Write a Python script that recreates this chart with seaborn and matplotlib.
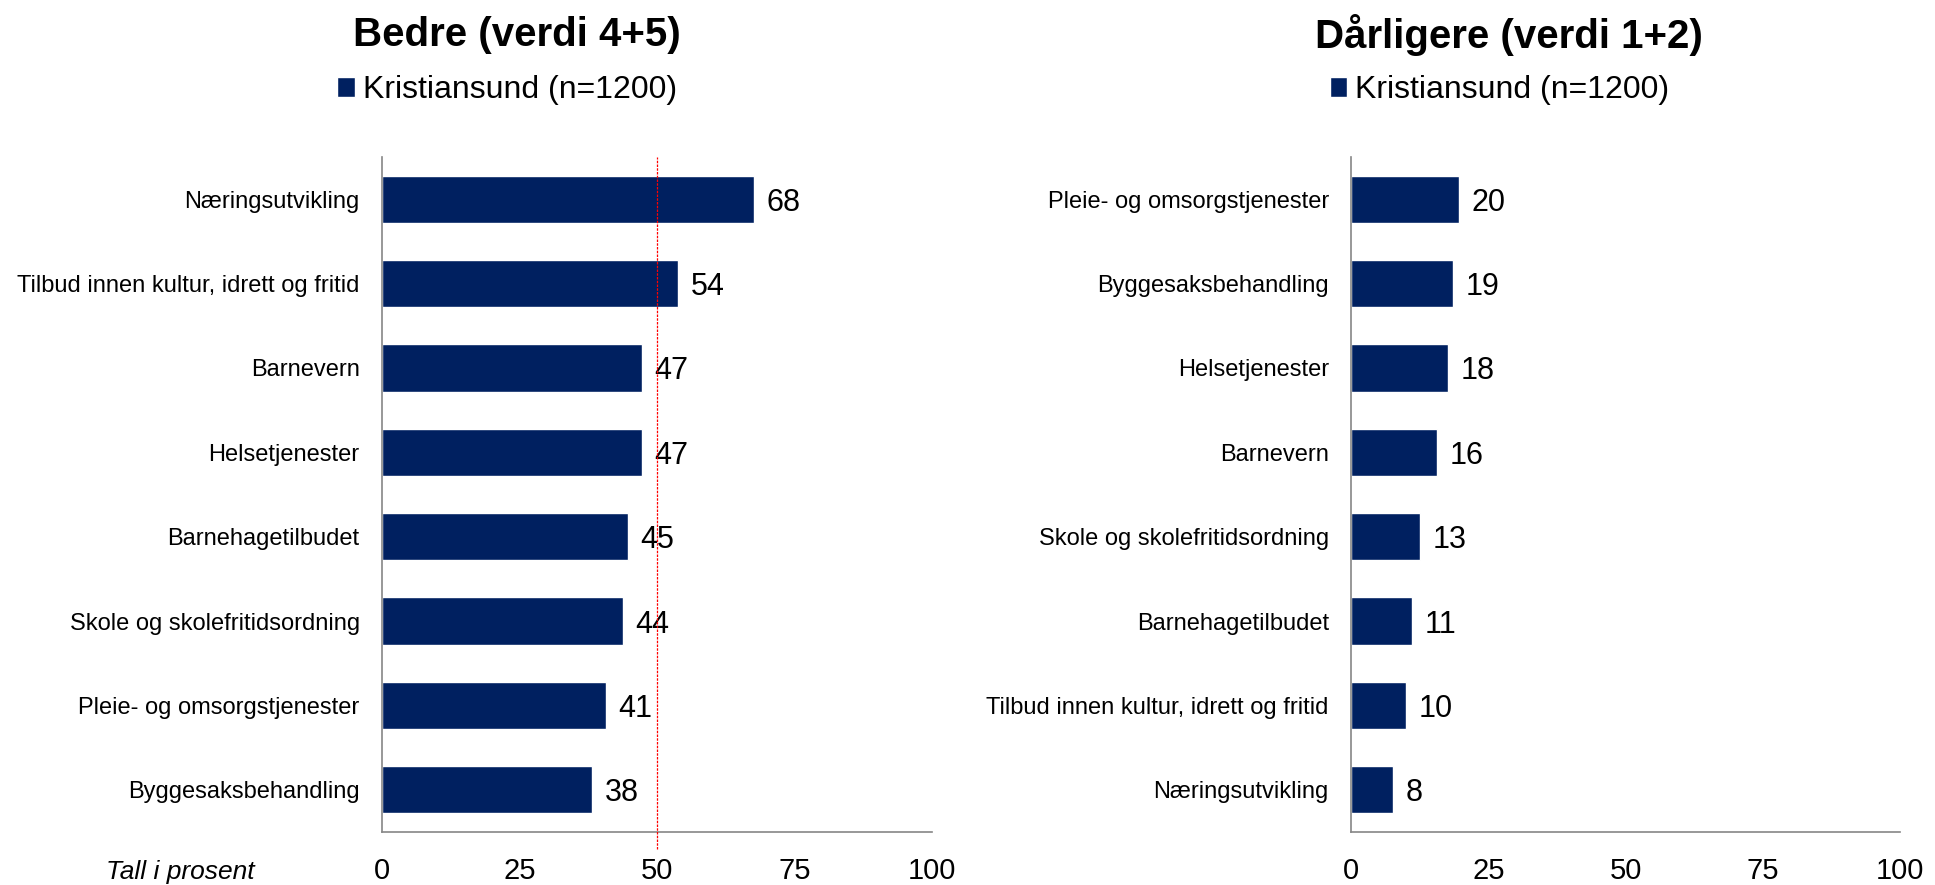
import matplotlib
matplotlib.use("Agg")
import matplotlib.pyplot as plt
import seaborn as sns
import pandas as pd
from matplotlib.patches import Patch

# Data
bedre_kategorier = [
    "Næringsutvikling",
    "Tilbud innen kultur, idrett og fritid",
    "Barnevern",
    "Helsetjenester",
    "Barnehagetilbudet",
    "Skole og skolefritidsordning",
    "Pleie- og omsorgstjenester",
    "Byggesaksbehandling",
]
bedre_verdier = [67.6, 53.8, 47.3, 47.3, 44.7, 43.8, 40.7, 38.2]
bedre_etiketter = ["68", "54", "47", "47", "45", "44", "41", "38"]

darligere_kategorier = [
    "Pleie- og omsorgstjenester",
    "Byggesaksbehandling",
    "Helsetjenester",
    "Barnevern",
    "Skole og skolefritidsordning",
    "Barnehagetilbudet",
    "Tilbud innen kultur, idrett og fritid",
    "Næringsutvikling",
]
darligere_verdier = [19.7, 18.6, 17.7, 15.6, 12.6, 11.1, 10.0, 7.6]
darligere_etiketter = ["20", "19", "18", "16", "13", "11", "10", "8"]

x_ticks = [0, 25, 50, 75, 100]
serie_navn = "Kristiansund (n=1200)"

FARGE = "#002060"
AKSE = "#868686"

sns.set_style("white")
plt.rcParams["font.family"] = ["Liberation Sans", "DejaVu Sans"]
plt.rcParams["text.color"] = "black"
plt.rcParams["xtick.labelcolor"] = "black"
plt.rcParams["ytick.labelcolor"] = "black"

fig = plt.figure(figsize=(19.35, 8.85), dpi=100)
ax1 = fig.add_axes([0.1974, 0.0599, 0.2842, 0.7627])
ax2 = fig.add_axes([0.6982, 0.0599, 0.2837, 0.7627])


def tegn_panel(ax, kategorier, verdier, etiketter):
    df = pd.DataFrame({"kategori": kategorier, "verdi": verdier})
    sns.barplot(data=df, x="verdi", y="kategori", orient="h", color=FARGE,
                width=0.56, saturation=1, ax=ax)
    txt = ax.bar_label(ax.containers[0], labels=etiketter, padding=9, fontsize=22,
                       color="black")
    for t in txt:
        t.set_verticalalignment("center_baseline")
    ax.set_xlim(0, 100)
    ax.set_ylim(len(kategorier) - 0.5, -0.5)
    ax.set_xticks(x_ticks)
    ax.set_xlabel("")
    ax.set_ylabel("")
    for s in ["top", "right"]:
        ax.spines[s].set_visible(False)
    for s in ["left", "bottom"]:
        ax.spines[s].set_color(AKSE)
        ax.spines[s].set_linewidth(1.2)
    ax.tick_params(axis="x", length=6, width=1.2, color=AKSE, pad=12, labelsize=21)
    ax.tick_params(axis="y", which="major", length=0, pad=16, labelsize=17)
    ax.set_yticks([i - 0.5 for i in range(len(kategorier) + 1)], minor=True)
    ax.tick_params(axis="y", which="minor", length=6, width=1.2, color=AKSE)


tegn_panel(ax1, bedre_kategorier, bedre_verdier, bedre_etiketter)
tegn_panel(ax2, darligere_kategorier, darligere_verdier, darligere_etiketter)

# rød referanselinje ved 50 i venstre panel
ax1.axvline(50, ymin=-0.025, ymax=1, color="red", linestyle=(0, (2, 1)),
            linewidth=0.9, clip_on=False, zorder=5)

# titler og legender
fig.text(0.267, 0.960, "Bedre (verdi 4+5)", ha="center", va="center",
         fontsize=29, fontweight="bold")
fig.text(0.780, 0.960, "Dårligere (verdi 1+2)", ha="center", va="center",
         fontsize=29, fontweight="bold")

for ax, xpos in [(ax1, 0.262), (ax2, 0.775)]:
    ax.legend(handles=[Patch(facecolor=FARGE, label=serie_navn)],
              loc="center", bbox_to_anchor=(xpos, 0.898),
              bbox_transform=fig.transFigure, frameon=False, fontsize=23,
              handlelength=0.55, handleheight=0.55, handletextpad=0.25,
              borderaxespad=0)

fig.text(0.055, 0.015, "Tall i prosent", ha="left", va="center",
         fontsize=19, fontstyle="italic")

fig.savefig("out.png", dpi=100)
